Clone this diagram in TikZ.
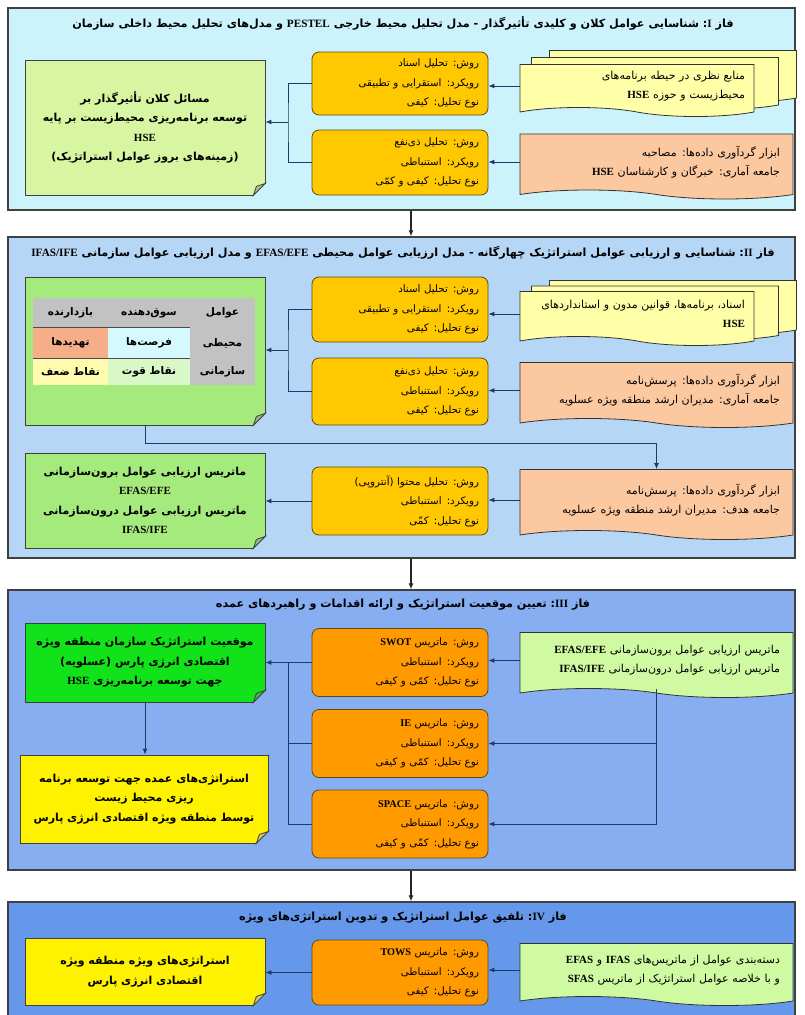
\documentclass[tikz,border=0pt]{standalone}
\usepackage{fontspec}
\usetikzlibrary{shapes.symbols,arrows.meta}
\newfontfamily\fa[Script=Arabic]{DejaVu Sans}
\newfontfamily\lat{Liberation Serif}
\TeXXeTstate=1
\newcommand\rl[1]{{\fa\beginR #1\endR}}
\newcommand\la[1]{\beginL{\lat\bfseries #1}\endL{}}
\newcommand\boxfont{\fontsize{10.3}{19.5}\selectfont}
\newcommand\docfont{\fontsize{11}{19}\selectfont}
\newcommand\notefont{\fontsize{11}{19.5}\selectfont\bfseries}
\newcommand\cellfont{\fontsize{10.5}{12}\selectfont\bfseries}

\definecolor{ponebg}{HTML}{CCF3FC}
\definecolor{ptwobg}{HTML}{B6D6F6}
\definecolor{pthreebg}{HTML}{86AEF0}
\definecolor{pfourbg}{HTML}{6598EA}
\definecolor{gold}{HTML}{FFC800}
\definecolor{orng}{HTML}{FF9A00}
\definecolor{paleyel}{HTML}{FFFFA8}
\definecolor{peach}{HTML}{FCC8A0}
\definecolor{palegreen}{HTML}{D8F5A2}
\definecolor{midgreen}{HTML}{A4EA7C}
\definecolor{brightgreen}{HTML}{12E21A}
\definecolor{lightgreen}{HTML}{CFFAA2}
\definecolor{navy}{HTML}{1F3A68}
\definecolor{boxline}{HTML}{5C4A14}
\definecolor{cellgray}{HTML}{C2C2C2}
\definecolor{cellcyan}{HTML}{D4FAFF}
\definecolor{cellsalmon}{HTML}{F6AE88}
\definecolor{cellgreen}{HTML}{D8F8C8}
\definecolor{cellyel}{HTML}{FFFCB0}

% umgeknickte Ecke unten rechts
\newcommand\dogear[3]{%
  \fill[#2] ([xshift=-13pt,yshift=-1pt]#1.south east) -- ([xshift=1pt,yshift=-1pt]#1.south east) -- ([xshift=1pt,yshift=13pt]#1.south east) -- cycle;
  \filldraw[fill=#3, draw=black!75, line width=0.8pt] ([xshift=-12pt]#1.south east) -- ([yshift=12pt]#1.south east) -- ([xshift=-9pt,yshift=9pt]#1.south east) -- cycle;}

\tikzset{
  panel/.style={draw=black!75, line width=1.3pt, minimum width=787, minimum height=#1},
  ttl/.style={font=\fontsize{11.2}{13}\selectfont\bfseries},
  box/.style={draw=boxline, line width=0.8pt, rounded corners=7pt, minimum width=176, minimum height=#1, text width=158, align=right, font=\boxfont},
  doc/.style={tape, tape bend top=none, tape bend bottom=out and in, tape bend height=9pt, draw=black!80, line width=0.8pt, minimum width=273, minimum height=#1, text width=247, align=right, font=\docfont},
  note/.style={draw=black!75, line width=0.8pt, minimum width=240, minimum height=#1, align=center, font=\notefont},
  link/.style={draw=navy, line width=1pt},
}

\begin{document}
\begin{tikzpicture}[x=1pt, y=-1pt, >={Latex[length=6pt,width=5pt]}, every node/.style={inner sep=0pt}]
\fill[white] (0,0) rectangle (804,1015);
\useasboundingbox (0,0) rectangle (804,1015);
\clip (0,0) rectangle (804,1015);

\node[panel=202, fill=ponebg] (p1) at (401.5,109) {};
\node[panel=321, fill=ptwobg] (p2) at (401.5,397.5) {};
\node[panel=280, fill=pthreebg] (p3) at (401.5,730) {};
\node[panel=130, fill=pfourbg] (p4) at (401.5,967) {};

\foreach \a/\b in {p1/p2,p2/p3,p3/p4}
  \draw[->, line width=1.2pt, black!85] ([xshift=9.5pt]\a.south) -- ([xshift=9.5pt]\b.north);

%% Fase I
\node[ttl] (t1) at (403,23) {\rl{فاز \la{I}: شناسایی عوامل کلان و کلیدی تأثیرگذار - مدل تحلیل محیط خارجی \la{PESTEL} و مدل‌های تحلیل محیط داخلی سازمان}};

\node[note=135, fill=palegreen] (n1) at (145,127.5) {\rl{مسائل کلان تأثیرگذار بر}\\\rl{توسعه برنامه‌ریزی محیط‌زیست بر پایه}\\{\lat\bfseries HSE}\\\rl{(زمینه‌های بروز عوامل استراتژیک)}};
\dogear{n1}{ponebg}{palegreen!55!gray}

\node[box=63, fill=gold] (m1a) at (400,83.5) {\rl{روش: تحلیل اسناد}\\\rl{رویکرد: استقرایی و تطبیقی}\\\rl{نوع تحلیل: کیفی}};
\node[box=65, fill=gold] (m1b) at (400,162.5) {\rl{روش: تحلیل ذی‌نفع}\\\rl{رویکرد: استنباطی}\\\rl{نوع تحلیل: کیفی و کمّی}};

\foreach \k in {2,1}
  \node[doc=52, minimum width=234, fill=paleyel] (d1a\k) at ({637+18*\k},{86-7*\k}) {};
\node[doc=52, minimum width=234, text width=216, fill=paleyel] (d1a) at (637,86) {\rl{منابع نظری در حیطه برنامه‌های}\\\rl{محیط‌زیست و حوزه \la{HSE}}};
\node[doc=65, fill=peach] (d1b) at (656.5,162) {\rl{ابزار گردآوری داده‌ها: مصاحبه}\\\rl{جامعه آماری: خبرگان و کارشناسان \la{HSE}}};

\draw[link,->] (d1a.west) -- (d1a.west -| m1a.east);
\draw[link,->] (d1b.west) -- (d1b.west -| m1b.east);
\coordinate (j1) at (288,122);
\draw[link] (m1a.west) -| (j1) |- (m1b.west);
\draw[link,->] (j1) -- (j1 -| n1.east);

%% Fase II
\node[ttl] (t2) at (403,253) {\rl{فاز \la{II}: شناسایی و ارزیابی عوامل استراتژیک چهارگانه - مدل ارزیابی عوامل محیطی \la{EFAS/EFE} و مدل ارزیابی عوامل سازمانی \la{IFAS/IFE}}};

\node[note=148, fill=midgreen] (n2) at (145,351) {};
\dogear{n2}{ptwobg}{midgreen!55!gray}
\foreach \nm/\xx/\yy/\ww/\hh/\cc/\tx in {
  h1/70.5/313/75/30/cellgray/بازدارنده,
  h2/149/313/82/30/cellgray/سوق‌دهنده,
  h3/222.5/313/65/30/cellgray/عوامل,
  c21/70.5/343/75/30/cellsalmon/تهدیدها,
  c22/149/343/82/30/cellcyan/فرصت‌ها,
  c23/222.5/343/65/30/cellgray/محیطی,
  c31/70.5/371.5/75/27/cellyel/نقاط ضعف,
  c32/149/371.5/82/27/cellgreen/نقاط قوت,
  c33/222.5/371.5/65/27/cellgray/سازمانی}
  \node[minimum width=\ww, minimum height=\hh, fill=\cc, font=\cellfont] (\nm) at (\xx,\yy) {\rl{\tx}};
\draw[black!70, line width=0.8pt] (c21.north west) -- (c22.north east);
\draw[black!70, line width=0.8pt] (c21.south west) -- (c22.south east);

\node[box=65, fill=gold] (m2a) at (400,309.5) {\rl{روش: تحلیل اسناد}\\\rl{رویکرد: استقرایی و تطبیقی}\\\rl{نوع تحلیل: کیفی}};
\node[box=67, fill=gold] (m2b) at (400,391.5) {\rl{روش: تحلیل ذی‌نفع}\\\rl{رویکرد: استنباطی}\\\rl{نوع تحلیل: کیفی}};

\foreach \k in {2,1}
  \node[doc=54, minimum width=234, fill=paleyel] (d2a\k) at ({637+18*\k},{314-5.5*\k}) {};
\node[doc=54, minimum width=234, text width=216, fill=paleyel] (d2a) at (637,314) {\rl{اسناد، برنامه‌ها، قوانین مدون و استانداردهای}\\{\lat\bfseries HSE}};
\node[doc=65, fill=peach] (d2b) at (656.5,390.5) {\rl{ابزار گردآوری داده‌ها: پرسش‌نامه}\\\rl{جامعه آماری: مدیران ارشد منطقه ویژه عسلویه}};

\draw[link,->] (d2a.west) -- (d2a.west -| m2a.east);
\draw[link,->] (d2b.west) -- (d2b.west -| m2b.east);
\coordinate (j2) at (288,350);
\draw[link] (m2a.west) -| (j2) |- (m2b.west);
\draw[link,->] (j2) -- (j2 -| n2.east);

\node[doc=70, fill=peach] (d2c) at (656.5,500) {\rl{ابزار گردآوری داده‌ها: پرسش‌نامه}\\\rl{جامعه هدف: مدیران ارشد منطقه ویژه عسلویه}};
\node[box=68, fill=gold] (m2c) at (400,501) {\rl{روش: تحلیل محتوا (آنتروپی)}\\\rl{رویکرد: استنباطی}\\\rl{نوع تحلیل: کمّی}};
\node[note=95, fill=midgreen] (n2c) at (145,500.5) {\rl{ماتریس ارزیابی عوامل برون‌سازمانی}\\{\lat\bfseries EFAS/EFE}\\\rl{ماتریس ارزیابی عوامل درون‌سازمانی}\\{\lat\bfseries IFAS/IFE}};
\dogear{n2c}{ptwobg}{midgreen!55!gray}

\draw[link,->] (n2.south) -- ++(0,18) -| (d2c.north);
\draw[link,->] (d2c.west) -- (d2c.west -| m2c.east);
\draw[link,->] (m2c.west) -- (m2c.west -| n2c.east);

%% Fase III
\node[ttl] (t3) at (403,605) {\rl{فاز \la{III}: تعیین موقعیت استراتژیک و ارائه اقدامات و راهبردهای عمده}};

\node[note=79, fill=brightgreen] (n3a) at (145,662.5) {\rl{موقعیت استراتژیک سازمان منطقه ویژه}\\\rl{اقتصادی انرژی پارس (عسلویه)}\\\rl{جهت توسعه برنامه‌ریزی \la{HSE}}};
\dogear{n3a}{pthreebg}{brightgreen!55!gray}
\node[note=88, minimum width=248, fill=yellow] (n3b) at (144,799) {\rl{استراتژی‌های عمده جهت توسعه برنامه‌}\\\rl{ریزی محیط زیست}\\\rl{توسط منطقه ویژه اقتصادی انرژی پارس}};
\dogear{n3b}{pthreebg}{yellow!55!gray}
\draw[link,->] (n3a.south) -- (n3a.south |- n3b.north);

\foreach \nm/\yy/\mt in {m3a/662.5/SWOT, m3b/743.5/IE, m3c/824/SPACE}
  \node[box=68, fill=orng] (\nm) at (400,\yy) {\rl{روش: ماتریس \la{\mt}}\\\rl{رویکرد: استنباطی}\\\rl{نوع تحلیل: کمّی و کیفی}};

\node[doc=65, fill=lightgreen] (d3) at (656.5,660.5) {\rl{ماتریس ارزیابی عوامل برون‌سازمانی \la{EFAS/EFE}}\\\rl{ماتریس ارزیابی عوامل درون‌سازمانی \la{IFAS/IFE}}};

\draw[link,->] (d3.west) -- (d3.west -| m3a.east);
\coordinate (j3r) at (d3.south |- m3c.east);
\draw[link] (d3.south) -- (j3r);
\draw[link,->] (d3.south |- m3b.east) -- (m3b.east);
\draw[link,->] (j3r) -- (m3c.east);
\coordinate (j3) at (288,662.5);
\draw[link,->] (m3a.west) -- (m3a.west -| n3a.east);
\draw[link] (j3) |- (m3c.west);
\draw[link] (j3 |- m3b.west) -- (m3b.west);

%% Fase IV
\node[ttl] (t4) at (403,918) {\rl{فاز \la{IV}: تلفیق عوامل استراتژیک و تدوین استراتژی‌های ویژه}};

\node[note=67, fill=yellow] (n4) at (145,971.5) {\rl{استراتژی‌های ویژه منطقه ویژه}\\\rl{اقتصادی انرژی پارس}};
\dogear{n4}{pfourbg}{yellow!55!gray}
\node[box=65, fill=orng] (m4) at (400,972.5) {\rl{روش: ماتریس \la{TOWS}}\\\rl{رویکرد: استنباطی}\\\rl{نوع تحلیل: کیفی}};
\node[doc=62, fill=lightgreen] (d4) at (656.5,970) {\rl{دسته‌بندی عوامل از ماتریس‌های \la{IFAS} و \la{EFAS}}\\\rl{و با خلاصه عوامل استراتژیک از ماتریس \la{SFAS}}};

\draw[link,->] (d4.west) -- (d4.west -| m4.east);
\draw[link,->] (m4.west) -- (m4.west -| n4.east);

\end{tikzpicture}
\end{document}
